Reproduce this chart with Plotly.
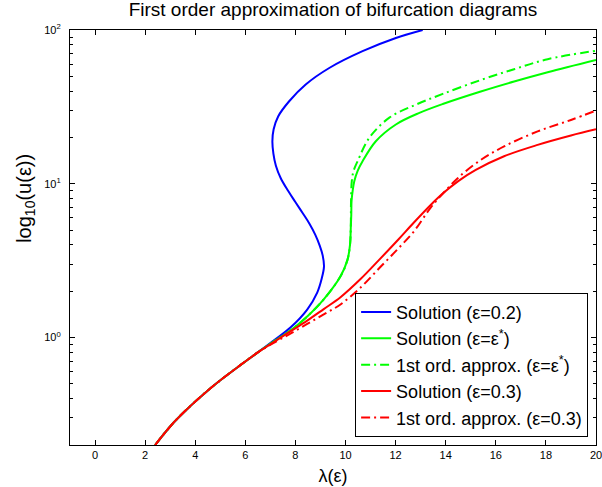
import plotly.graph_objects as go

# Bifurcation branches: lambda values and u values for each curve
blue_lam = [2.4, 3.13, 3.8, 4.47, 5.13, 5.8, 6.47, 7.13, 7.8, 8.47, 8.87, 9.05, 9.14, 9.09, 8.97, 8.79,
            8.56, 8.28, 7.99, 7.68, 7.41, 7.22, 7.12, 7.08, 7.13, 7.31, 7.75, 8.41, 9.35, 10.68, 12.01, 13.08]
blue_u = [0.2, 0.279, 0.358, 0.448, 0.547, 0.661, 0.794, 0.956, 1.161, 1.52, 1.96, 2.42, 2.89, 3.41, 3.96, 4.67,
          5.50, 6.48, 7.64, 9.14, 10.9, 13.1, 15.7, 18.9, 22.6, 27.4, 34.4, 44.2, 56.6, 72.8, 88.7, 100.0]

green_lam = [2.4, 3.13, 3.8, 4.47, 5.13, 5.8, 6.47, 7.13, 7.8, 8.47, 9.13, 9.8, 10.08, 10.18, 10.21, 10.23,
             10.24, 10.29, 10.35, 10.48, 10.68, 11.21, 12.01, 12.95, 13.88, 15.4, 16.73, 18.07, 20.0]
green_u = [0.2, 0.279, 0.358, 0.448, 0.547, 0.661, 0.794, 0.942, 1.11, 1.37, 1.77, 2.50, 3.21, 4.02, 5.18, 6.30,
           7.73, 9.14, 10.4, 12.1, 14.0, 18.9, 24.3, 28.9, 33.0, 39.8, 46.2, 53.1, 63.8]

green_apx_lam = [2.4, 3.13, 3.8, 4.47, 5.13, 5.8, 6.47, 7.13, 7.8, 8.47, 9.13, 9.8, 10.08, 10.18, 10.21, 10.22,
                 10.25, 10.32, 10.48, 10.95, 11.75, 12.81, 13.88, 15.4, 16.73, 18.07, 20.0]
green_apx_u = [0.2, 0.279, 0.358, 0.448, 0.547, 0.661, 0.794, 0.942, 1.11, 1.37, 1.77, 2.50, 3.21, 4.02, 5.18, 7.73,
               10.4, 12.1, 14.0, 19.9, 26.9, 32.7, 38.4, 47.3, 55.6, 64.6, 73.3]

red_lam = [2.4, 3.13, 3.8, 4.47, 5.13, 5.8, 6.47, 7.13, 7.8, 8.47, 9.13, 9.8, 10.6, 11.35, 12.1, 12.73,
           13.4, 13.88, 14.5, 15.2, 16.33, 17.67, 19.0, 20.0]
red_u = [0.2, 0.279, 0.358, 0.448, 0.547, 0.661, 0.794, 0.933, 1.096, 1.288, 1.531, 1.828, 2.399, 3.21, 4.325, 5.6,
         7.28, 8.63, 10.4, 12.3, 15.1, 17.9, 20.6, 22.6]

red_apx_lam = [2.4, 3.13, 3.8, 4.47, 5.13, 5.8, 6.47, 7.13, 7.8, 8.47, 9.13, 9.8, 10.6, 11.4, 12.1, 12.73,
               13.4, 13.88, 14.5, 15.4, 16.33, 17.67, 19.0, 20.0]
red_apx_u = [0.2, 0.279, 0.358, 0.448, 0.547, 0.661, 0.794, 0.923, 1.059, 1.225, 1.413, 1.641, 2.113, 2.884, 3.784,
             4.90, 7.0, 8.61, 10.96, 14.29, 17.5, 21.9, 26.0, 29.9]

x_ticks = [0, 2, 4, 6, 8, 10, 12, 14, 16, 18, 20]
y_ticks = [1, 10, 100]
y_tick_text = ["10<sup>0</sup>", "10<sup>1</sup>", "10<sup>2</sup>"]
y_minor = [0.2, 0.3, 0.4, 0.5, 0.6, 0.7, 0.8, 0.9, 2, 3, 4, 5, 6, 7, 8, 9, 20, 30, 40, 50, 60, 70, 80, 90]

FONT = "Liberation Sans, Arial, sans-serif"
DASHDOT = "9px,4px,2px,4px"

series = [
    ("Solution (ε=0.2)", blue_lam, blue_u, "rgb(0,0,255)", "solid"),
    ("Solution (ε=ε<sup>*</sup>)", green_lam, green_u, "rgb(0,255,0)", "solid"),
    ("1st ord. approx. (ε=ε<sup>*</sup>)", green_apx_lam, green_apx_u, "rgb(0,255,0)", DASHDOT),
    ("Solution (ε=0.3)", red_lam, red_u, "rgb(255,0,0)", "solid"),
    ("1st ord. approx. (ε=0.3)", red_apx_lam, red_apx_u, "rgb(255,0,0)", DASHDOT),
]

fig = go.Figure()
for name, lam, u, color, dash in series:
    fig.add_trace(go.Scatter(
        x=lam, y=u, name=name, mode="lines",
        line=dict(color=color, width=2, dash=dash, shape="spline", smoothing=1.0),
    ))

axis_common = dict(
    showline=True, linecolor="black", linewidth=1.2, mirror="ticks",
    ticks="inside", tickcolor="black", ticklen=5, tickwidth=1,
    showgrid=False, zeroline=False, automargin=False,
    tickfont=dict(family=FONT, size=11, color="black"),
)

fig.update_xaxes(
    range=[-1, 20], tickmode="array", tickvals=x_ticks, ticklabeloverflow="allow",
    title=dict(text="λ(ε)", font=dict(family=FONT, size=18, color="black"), standoff=9),
    **axis_common,
)
fig.update_yaxes(
    type="log", range=[-0.699, 2], tickmode="array", tickvals=y_ticks, ticktext=y_tick_text,
    minor=dict(tickmode="array", tickvals=y_minor, ticks="inside", ticklen=3, tickcolor="black", showgrid=False),
    ticklabelstandoff=6,
    **axis_common,
)

# y-axis label placed to the left of the tick labels
fig.add_annotation(
    text="log<sub>10</sub>(u(ε))", textangle=-90, showarrow=False,
    xref="paper", yref="paper", x=-0.086, y=0.595, xanchor="center", yanchor="middle",
    font=dict(family=FONT, size=20, color="black"),
)

fig.update_layout(
    width=602, height=487,
    margin=dict(l=70, r=6, t=30, b=42),
    paper_bgcolor="white", plot_bgcolor="white",
    title=dict(text="First order approximation of bifurcation diagrams",
               font=dict(family=FONT, size=19, color="black"),
               x=0.5, xref="paper", xanchor="center", y=0.98, yanchor="middle"),
    legend=dict(
        x=0.985, y=0.02, xanchor="right", yanchor="bottom",
        bgcolor="white", bordercolor="black", borderwidth=1,
        font=dict(family=FONT, size=18, color="black"),
        tracegroupgap=0, entrywidth=200, entrywidthmode="pixels",
    ),
    showlegend=True,
)

fig.write_html("out.html")
